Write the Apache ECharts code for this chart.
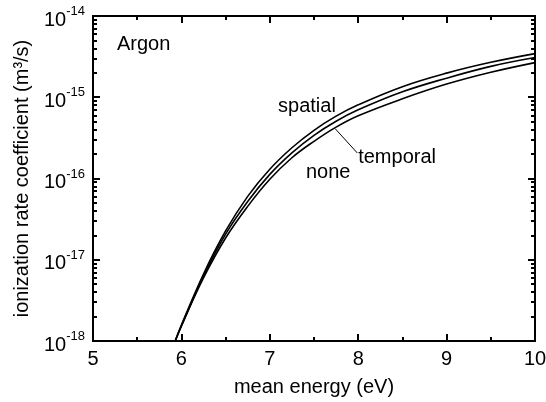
<!DOCTYPE html>
<html>
<head>
<meta charset="utf-8">
<script src="https://cdn.jsdelivr.net/npm/echarts@6/dist/echarts.min.js"></script>
<style>html,body{margin:0;padding:0;background:#fff}#c{width:546px;height:402px}</style>
</head>
<body>
<div id="c"></div>
<script>
// mean energy (eV)
const energy = [5.93, 6.0, 6.25, 6.5, 6.75, 7.0, 7.25, 7.5, 7.75, 8.0, 8.5, 9.0, 9.5, 10];
// ionization rate coefficient (m^3/s)
const spatial  = [1.00e-18, 1.574e-18, 6.68e-18, 2.26e-17, 6.03e-17, 1.30e-16, 2.39e-16, 3.92e-16, 5.85e-16, 8.07e-16, 1.35e-15, 1.98e-15, 2.69e-15, 3.44e-15];
const temporal = [1.00e-18, 1.531e-18, 6.31e-18, 2.07e-17, 5.22e-17, 1.125e-16, 2.07e-16, 3.40e-16, 5.07e-16, 7.00e-16, 1.167e-15, 1.718e-15, 2.40e-15, 3.08e-15];
const none     = [1.00e-18, 1.531e-18, 5.97e-18, 1.85e-17, 4.54e-17, 9.77e-17, 1.80e-16, 2.87e-16, 4.29e-16, 5.92e-16, 9.57e-16, 1.452e-15, 2.03e-15, 2.67e-15];
// axis ticks
const yDecades = [1e-18, 1e-17, 1e-16, 1e-15, 1e-14];
const yMinor = [];
for (let d = -18; d < -14; d++) for (let m = 2; m <= 9; m++) yMinor.push(Number(m + 'e' + d));
// annotation anchors (data coordinates)
const labelSpatial = [7.42, 7.8e-16];
const labelTemporal = [8.44, 1.79e-16];
const labelNone = [7.66, 1.2e-16];
const leaderTemporal = [[7.74, 4.1e-16], [7.99, 2.06e-16]];

const FONT = '"Liberation Sans", Arial, Helvetica, sans-serif';
const chart = echarts.init(document.getElementById('c'), null, {renderer: 'canvas'});

function yAxisBase(extra) {
  return Object.assign({
    type: 'log', logBase: 10, min: 1e-18, max: 1e-14,
    axisLine: {show: true, lineStyle: {color: '#000', width: 2}},
    splitLine: {show: false},
    minorTick: {show: false}
  }, extra);
}
function xAxisBase(extra) {
  return Object.assign({
    type: 'value', min: 5, max: 10, interval: 1,
    axisLine: {show: true, onZero: false, lineStyle: {color: '#000', width: 2}},
    axisTick: {show: true, inside: true, length: 7, lineStyle: {color: '#000', width: 2}},
    minorTick: {show: true, splitNumber: 2, length: 4, lineStyle: {color: '#000', width: 2}},
    splitLine: {show: false}
  }, extra);
}
function textMark(pos, text) {
  return {
    symbol: 'circle', symbolSize: 0, silent: true,
    label: {show: true, position: 'inside', formatter: text, color: '#000', fontSize: 20, fontFamily: FONT},
    data: [{coord: pos}]
  };
}

const option = {
  animation: false,
  backgroundColor: '#fff',
  textStyle: {fontFamily: FONT},
  grid: {left: 93, right: 11, top: 16, bottom: 61, outerBoundsMode: 'none'},
  title: {text: 'Argon', left: 112, top: 29, textStyle: {fontSize: 20, fontWeight: 'normal', color: '#000', fontFamily: FONT}},
  xAxis: [
    xAxisBase({
      position: 'bottom',
      name: 'mean energy (eV)', nameLocation: 'middle', nameGap: 36,
      nameTextStyle: {fontSize: 20, color: '#000', fontFamily: FONT},
      axisLabel: {show: true, margin: 8, fontSize: 20, color: '#000', fontFamily: FONT}
    }),
    xAxisBase({position: 'top', axisLabel: {show: false}})
  ],
  yAxis: [
    yAxisBase({
      position: 'left',
      name: 'ionization rate coefficient (m³/s)', nameLocation: 'middle', nameGap: 61,
      nameTextStyle: {fontSize: 20, color: '#000', fontFamily: FONT},
      axisTick: {show: true, inside: true, length: 7, customValues: yDecades, lineStyle: {color: '#000', width: 2}},
      axisLabel: {
        show: true, margin: 8, customValues: yDecades,
        formatter: v => '{b|10}{s|' + Math.round(Math.log10(v)) + '}',
        rich: {
          b: {fontSize: 20, color: '#000', fontFamily: FONT, lineHeight: 28, verticalAlign: 'bottom'},
          s: {fontSize: 13, color: '#000', fontFamily: FONT, lineHeight: 28, verticalAlign: 'top', padding: [3, 0, 0, 0]}
        }
      }
    }),
    yAxisBase({
      position: 'left',
      axisLabel: {show: false},
      axisTick: {show: true, inside: true, length: 4, customValues: yMinor, lineStyle: {color: '#000', width: 2}}
    }),
    yAxisBase({
      position: 'right',
      axisLabel: {show: false},
      axisTick: {show: true, inside: true, length: 7, customValues: yDecades, lineStyle: {color: '#000', width: 2}}
    }),
    yAxisBase({
      position: 'right',
      axisLabel: {show: false},
      axisTick: {show: true, inside: true, length: 4, customValues: yMinor, lineStyle: {color: '#000', width: 2}}
    })
  ],
  series: [
    {
      name: 'spatial', type: 'line', xAxisIndex: 0, yAxisIndex: 0,
      data: energy.map((e, i) => [e, spatial[i]]),
      showSymbol: false, smooth: 0.4, lineStyle: {color: '#000', width: 1.6},
      markPoint: textMark(labelSpatial, 'spatial')
    },
    {
      name: 'temporal', type: 'line', xAxisIndex: 0, yAxisIndex: 0,
      data: energy.map((e, i) => [e, temporal[i]]),
      showSymbol: false, smooth: 0.4, lineStyle: {color: '#000', width: 1.6},
      markPoint: textMark(labelTemporal, 'temporal'),
      markLine: {
        silent: true, symbol: ['none', 'none'],
        lineStyle: {color: '#000', width: 1, type: 'solid'},
        label: {show: false},
        data: [[{coord: leaderTemporal[0]}, {coord: leaderTemporal[1]}]]
      }
    },
    {
      name: 'none', type: 'line', xAxisIndex: 0, yAxisIndex: 0,
      data: energy.map((e, i) => [e, none[i]]),
      showSymbol: false, smooth: 0.4, lineStyle: {color: '#000', width: 1.6},
      markPoint: textMark(labelNone, 'none')
    }
  ]
};
chart.setOption(option);
</script>
</body>
</html>
